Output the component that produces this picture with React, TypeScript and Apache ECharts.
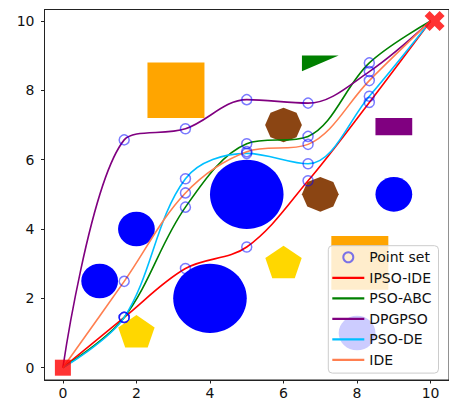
import React, { useEffect, useRef } from "react";
import * as echarts from "echarts";

// Waypoint x positions shared by all paths
const pathX = [0, 1.667, 3.333, 5, 6.667, 8.333, 10];
// Path y values per algorithm
const ipsoIde = [0, 1.45, 2.86, 3.48, 5.39, 7.65, 10];
const psoAbc = [0, 1.45, 4.63, 6.46, 6.67, 8.79, 10];
const dpgpso = [0, 6.57, 6.89, 7.73, 7.63, 8.54, 10];
const psoDe = [0, 1.45, 5.45, 6.18, 5.88, 7.83, 10];
const ide = [0, 2.49, 5.04, 6.23, 6.44, 8.28, 10];

const xTicks = [0, 2, 4, 6, 8, 10];
const yTicks = [0, 2, 4, 6, 8, 10];

// Obstacles: circles [cx, cy, r]
const circleObstacles = [
  [5, 5, 1],
  [4, 2, 1],
  [2, 4, 0.5],
  [1, 2.5, 0.5],
  [9, 5, 0.5],
  [8, 1, 0.5],
];
// Rectangles [x0, y0, x1, y1]
const orangeRects = [
  [2.3, 7.2, 3.85, 8.8],
  [7.3, 2.25, 8.85, 3.8],
];
const purpleRects = [[8.5, 6.7, 9.5, 7.2]];
// Regular polygons [cx, cy, r]
const pentagons = [
  [2, 1, 0.52],
  [6, 3, 0.52],
];
const octagons = [
  [6, 7, 0.5],
  [7, 5, 0.5],
];
// Triangle vertices [x1, y1, x2, y2, x3, y3]
const triangles = [[6.5, 9, 7.5, 9, 6.5, 8.55]];
const startPoint = [[0, 0]];
const goalPoint = [[10, 10]];

const legendNames = ["Point set", "IPSO-IDE", "PSO-ABC", "DPGPSO", "PSO-DE", "IDE"];

const FONT = "DejaVu Sans";
const LINE_ICON = "path://M0,0 L32,0 L32,2.2 L0,2.2 Z";

function regularPolygonSeries(data: number[][], n: number, color: string) {
  return {
    type: "custom",
    z: 1,
    silent: true,
    data,
    encode: { x: 0, y: 1 },
    renderItem: (params: any, api: any) => {
      const cx = api.value(0);
      const cy = api.value(1);
      const r = api.value(2);
      const pts: number[][] = [];
      for (let k = 0; k < n; k++) {
        const t = Math.PI / 2 + (2 * Math.PI * k) / n;
        pts.push(api.coord([cx + r * Math.cos(t), cy + r * Math.sin(t)]));
      }
      return { type: "polygon", shape: { points: pts }, style: { fill: color } };
    },
  };
}

function rectSeries(data: number[][], color: string) {
  return {
    type: "custom",
    z: 1,
    silent: true,
    data,
    encode: { x: [0, 2], y: [1, 3] },
    renderItem: (params: any, api: any) => {
      const p0 = api.coord([api.value(0), api.value(3)]);
      const p1 = api.coord([api.value(2), api.value(1)]);
      return {
        type: "rect",
        shape: { x: p0[0], y: p0[1], width: p1[0] - p0[0], height: p1[1] - p0[1] },
        style: { fill: color },
      };
    },
  };
}

function lineSeries(name: string, ys: number[], color: string) {
  return {
    name,
    type: "line",
    z: 2,
    data: pathX.map((x, i) => [x, ys[i]]),
    smooth: 0.35,
    symbol: "none",
    lineStyle: { color, width: 1.6 },
    itemStyle: { color },
  };
}

const pointSet = [ipsoIde, psoAbc, dpgpso, psoDe, ide].flatMap((ys) =>
  ys.slice(1, 6).map((y, i) => [pathX[i + 1], y])
);

export default function App() {
  const ref = useRef<HTMLDivElement>(null);
  useEffect(() => {
    if (!ref.current) return;
    const chart = echarts.init(ref.current, undefined, { renderer: "svg" });
    const option: any = {
      animation: false,
      backgroundColor: "#ffffff",
      grid: {
        left: 44.5,
        right: -1.8,
        top: 9.5,
        bottom: 23,
        show: true,
        borderColor: "#222",
        borderWidth: 1,
      },
      xAxis: {
        type: "value",
        min: -0.5,
        max: 10.5,
        splitLine: { show: false },
        axisLine: { show: true, onZero: false, lineStyle: { color: "#222", width: 1 } },
        axisTick: { show: true, length: 3.5, lineStyle: { color: "#222" }, customValues: xTicks },
        axisLabel: {
          customValues: xTicks,
          fontFamily: FONT,
          fontSize: 14,
          color: "#111",
          margin: 6,
        },
      },
      yAxis: {
        type: "value",
        min: -0.355,
        max: 10.33,
        splitLine: { show: false },
        axisLine: { show: true, onZero: false, lineStyle: { color: "#222", width: 1 } },
        axisTick: { show: true, length: 3.5, lineStyle: { color: "#222" }, customValues: yTicks },
        axisLabel: {
          customValues: yTicks,
          fontFamily: FONT,
          fontSize: 14,
          color: "#111",
          margin: 10,
        },
      },
      legend: {
        orient: "vertical",
        left: 328.3,
        top: 245.7,
        z: 10,
        padding: [4.6, 7, 6.3, 4],
        itemWidth: 32,
        itemHeight: 10,
        itemGap: 6.5,
        itemTextGap: 11.4,
        backgroundColor: "rgba(255,255,255,0.8)",
        borderColor: "#cccccc",
        borderWidth: 1,
        borderRadius: 4,
        textStyle: { fontFamily: FONT, fontSize: 14, color: "#111", lineHeight: 14 },
        data: legendNames.map((name, i) =>
          i === 0 ? { name, icon: "circle" } : { name, icon: LINE_ICON }
        ),
      },
      series: [
        {
          type: "custom",
          z: 1,
          silent: true,
          data: circleObstacles,
          encode: { x: 0, y: 1 },
          renderItem: (params: any, api: any) => {
            const c = api.coord([api.value(0), api.value(1)]);
            const s = api.size([api.value(2), api.value(2)]);
            return {
              type: "ellipse",
              shape: { cx: c[0], cy: c[1], rx: s[0], ry: s[1] },
              style: { fill: "#0000ff" },
            };
          },
        },
        rectSeries(orangeRects, "#ffa500"),
        rectSeries(purpleRects, "#800080"),
        regularPolygonSeries(pentagons, 5, "#ffd700"),
        regularPolygonSeries(octagons, 8, "#8b4513"),
        {
          type: "custom",
          z: 1,
          silent: true,
          data: triangles,
          encode: { x: [0, 2, 4], y: [1, 3, 5] },
          renderItem: (params: any, api: any) => {
            const pts = [0, 2, 4].map((k) => api.coord([api.value(k), api.value(k + 1)]));
            return { type: "polygon", shape: { points: pts }, style: { fill: "#008000" } };
          },
        },
        lineSeries(legendNames[1], ipsoIde, "#ff0000"),
        lineSeries(legendNames[2], psoAbc, "#008000"),
        lineSeries(legendNames[3], dpgpso, "#800080"),
        lineSeries(legendNames[4], psoDe, "#00bfff"),
        lineSeries(legendNames[5], ide, "#ff7f50"),
        {
          name: legendNames[0],
          type: "scatter",
          z: 3,
          data: pointSet,
          symbol: "circle",
          symbolSize: 10,
          itemStyle: {
            color: "rgba(0,0,0,0)",
            borderColor: "rgba(0,0,255,0.65)",
            borderWidth: 1.5,
          },
        },
        {
          type: "scatter",
          z: 3,
          silent: true,
          data: startPoint,
          symbol: "rect",
          symbolSize: 16,
          itemStyle: { color: "#ff0000" },
        },
        {
          type: "scatter",
          z: 3,
          silent: true,
          data: goalPoint,
          symbol:
            "path://M0,2.5 L2.5,0 L5,2.5 L7.5,0 L10,2.5 L7.5,5 L10,7.5 L7.5,10 L5,7.5 L2.5,10 L0,7.5 L2.5,5 Z",
          symbolSize: 20,
          symbolOffset: [4, 0],
          itemStyle: { color: "#ff0000" },
        },
      ],
    };
    chart.setOption(option);
    return () => chart.dispose();
  }, []);
  return (
    <div
      ref={ref}
      style={{ position: "fixed", left: 0, top: 0, width: "449px", height: "403px" }}
    />
  );
}
